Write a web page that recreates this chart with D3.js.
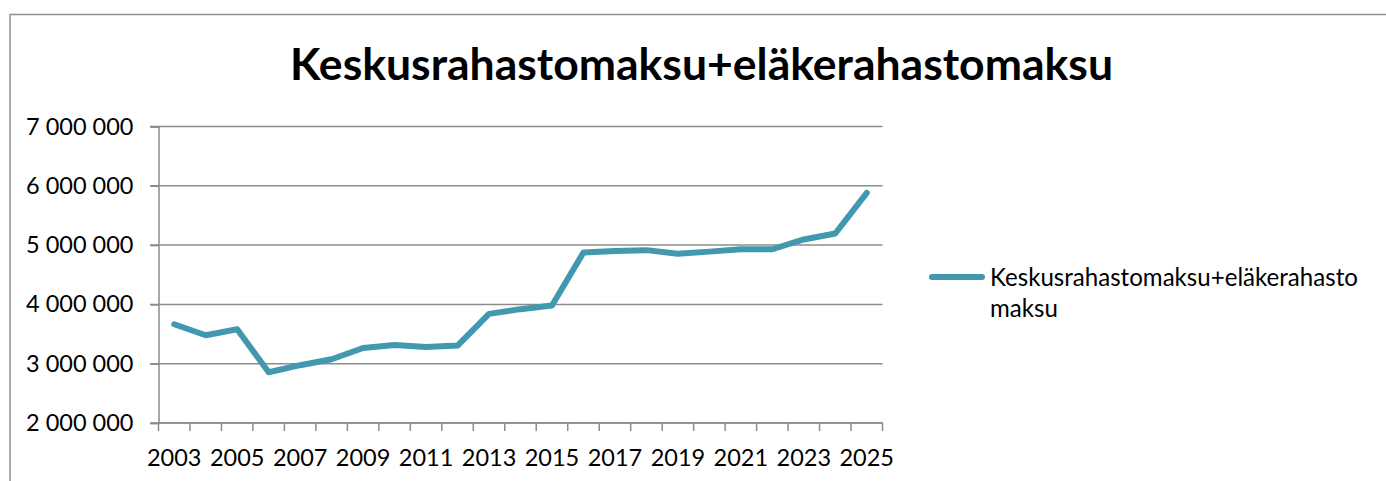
<!DOCTYPE html>
<html lang="fi">
<head>
    <meta charset="UTF-8">
    <title>Keskusrahastomaksu+eläkerahastomaksu</title>
    <style>
        body { margin: 0; background: #fff; }
        svg { display: block; font-family: Lato, "Open Sans", sans-serif; }
    </style>
</head>
<body>
    <script src="https://d3js.org/d3.v7.min.js"></script>
    <script>
        // data
        const years = ["2003", "2004", "2005", "2006", "2007", "2008", "2009", "2010", "2011", "2012", "2013", "2014",
            "2015", "2016", "2017", "2018", "2019", "2020", "2021", "2022", "2023", "2024", "2025"];
        const values = [3665000, 3480000, 3580000, 2855000, 2975000, 3075000, 3265000, 3315000, 3280000, 3305000,
            3840000, 3920000, 3980000, 4875000, 4900000, 4915000, 4855000, 4890000, 4930000, 4930000, 5095000,
            5195000, 5880000];
        const yTicks = [2000000, 3000000, 4000000, 5000000, 6000000, 7000000];
        const xLabels = ["2003", "2005", "2007", "2009", "2011", "2013", "2015", "2017", "2019", "2021", "2023", "2025"];
        const title = "Keskusrahastomaksu+eläkerahastomaksu";
        const seriesName = ["Keskusrahastomaksu+eläkerahasto", "maksu"];

        const width = 1386;
        const height = 481;
        const lineColor = "#4198af";
        const gridColor = "#8c8c8c";

        const fi = d3.formatLocale({ decimal: ",", thousands: " ", grouping: [3], currency: ["", " €"] });
        const fmt = fi.format(",d");

        const svg = d3.select("body").append("svg")
            .attr("width", width)
            .attr("height", height);

        // chart frame (only left and top edges visible)
        svg.append("path")
            .attr("d", "M10,481V14.5H1386")
            .attr("fill", "none")
            .attr("stroke", "#8f8f8f")
            .attr("stroke-width", 1.5);

        // fit text to a target width
        function fit(sel, target) {
            const w = sel.node().getComputedTextLength();
            const fs = parseFloat(sel.attr("font-size"));
            sel.attr("font-size", fs * target / w);
        }

        let t = svg.append("text")
            .attr("x", 701.5)
            .attr("y", 80)
            .attr("text-anchor", "middle")
            .attr("font-size", 46)
            .attr("font-weight", "bold")
            .text(title);
        fit(t, 823);

        let x = d3.scaleBand()
            .domain(years)
            .range([158.5, 882.5]);

        let y = d3.scaleLinear()
            .domain([2000000, 7000000])
            .range([423, 126.5]);

        // gridlines
        svg.append("g")
            .selectAll("line")
            .data(yTicks)
            .enter()
            .append("line")
            .attr("x1", 150)
            .attr("x2", 882.5)
            .attr("y1", d => y(d))
            .attr("y2", d => y(d))
            .attr("stroke", gridColor)
            .attr("stroke-width", 1.5);

        // y axis
        let yAxis = svg.append("g")
            .attr("transform", "translate(158.5,0)")
            .call(d3.axisLeft(y).tickValues(yTicks).tickSize(8).tickPadding(17).tickFormat(fmt));
        yAxis.select(".domain").attr("stroke", gridColor).attr("stroke-width", 1.5);
        yAxis.selectAll(".tick line").attr("stroke", gridColor).attr("stroke-width", 1.5);
        yAxis.selectAll("text")
            .attr("font-size", 23.5)
            .attr("font-family", "Lato, sans-serif")
            .attr("fill", "#000");

        // x axis: ticks at category boundaries, labels on every other year
        let xAxis = svg.append("g")
            .attr("transform", "translate(0,423)");
        xAxis.append("line")
            .attr("x1", x.range()[0])
            .attr("x2", x.range()[1])
            .attr("stroke", gridColor)
            .attr("stroke-width", 1.5);
        xAxis.selectAll(".xt")
            .data(years.concat(["end"]))
            .enter()
            .append("line")
            .attr("class", "xt")
            .attr("x1", d => d === "end" ? x.range()[1] : x(d))
            .attr("x2", d => d === "end" ? x.range()[1] : x(d))
            .attr("y2", 8)
            .attr("stroke", gridColor)
            .attr("stroke-width", 1.5);
        xAxis.selectAll(".xl")
            .data(xLabels)
            .enter()
            .append("text")
            .attr("class", "xl")
            .attr("x", d => x(d) + x.bandwidth() / 2)
            .attr("y", 43)
            .attr("text-anchor", "middle")
            .attr("font-size", 23.5)
            .attr("fill", "#000")
            .text(d => d);

        // series line
        let line = d3.line()
            .x((d, i) => x(years[i]) + x.bandwidth() / 2)
            .y(d => y(d));

        svg.append("path")
            .datum(values)
            .attr("d", line)
            .attr("fill", "none")
            .attr("stroke", lineColor)
            .attr("stroke-width", 6)
            .attr("stroke-linejoin", "round")
            .attr("stroke-linecap", "round");

        // legend
        let legend = svg.append("g");
        legend.append("line")
            .attr("x1", 932)
            .attr("x2", 982)
            .attr("y1", 277)
            .attr("y2", 277)
            .attr("stroke", lineColor)
            .attr("stroke-width", 6)
            .attr("stroke-linecap", "round");
        let lt = legend.append("text")
            .attr("x", 990)
            .attr("y", 286)
            .attr("font-size", 24)
            .attr("fill", "#000");
        lt.append("tspan").text(seriesName[0]);
        fit(lt, 368);
        lt.append("tspan")
            .attr("x", 990)
            .attr("dy", 31)
            .text(seriesName[1]);
    </script>
</body>
</html>
